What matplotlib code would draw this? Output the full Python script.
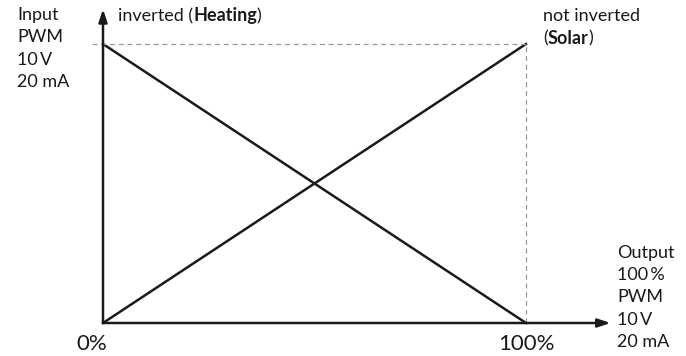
import matplotlib.pyplot as plt

# signal in percent of output vs. input
x_pct = [0, 100]
heating = [100, 0]   # inverted
solar = [0, 100]     # not inverted
x_ticks = [0, 100]
x_tick_labels = ["0%", "100%"]
input_label = ["Input", "PWM", "10\u2009V", "20 mA"]
output_label = ["Output", "100\u2009%", "PWM", "10\u2009V", "20 mA"]

plt.rcParams["font.family"] = ["Lato", "DejaVu Sans"]

W, H = 686, 356
fig = plt.figure(figsize=(W / 100, H / 100), dpi=100)
# axes box: 0..100 maps to pixels 103..526 (x) and 323..44 (y)
ax = fig.add_axes([103 / W, (H - 323) / H, 423 / W, 279 / H])
ax.set_xlim(0, 100)
ax.set_ylim(0, 100)
ax.axis("off")

ax.plot(x_pct, heating, color="#1a1a1a", lw=1.8, clip_on=False)
ax.plot(x_pct, solar, color="#1a1a1a", lw=1.8, clip_on=False)

# dashed guides
ax.plot([-2.6, 100], [100, 100], ls=(0, (4, 3)), color="#999999", lw=0.9, clip_on=False)
ax.plot([100, 100], [0, 100], ls=(0, (4, 3)), color="#999999", lw=0.9, clip_on=False)

# axes with arrows
arrow = dict(arrowstyle="-|>,head_length=0.75,head_width=0.25", color="#1a1a1a", lw=1.8,
             shrinkA=0, shrinkB=0)
ax.annotate("", xy=(0, 112.5), xytext=(0, 0), arrowprops=arrow, annotation_clip=False)
ax.annotate("", xy=(120, 0), xytext=(0, 0), arrowprops=arrow, annotation_clip=False)

# the 0% label sits a little left of the origin in the original
tick_offset = [-2.6, 0]
for xt, off, lab in zip(x_ticks, tick_offset, x_tick_labels):
    ax.text(xt + off, -7.6, lab, ha="center", va="center", fontsize=16, color="#1a1a1a")

fs = 13
for i, s in enumerate(input_label):
    fig.text(17 / W, 1 - (15 + 22.3 * i) / H, s, ha="left", va="center", fontsize=fs, color="#1a1a1a")
for i, s in enumerate(output_label):
    fig.text(617 / W, 1 - (253 + 22.2 * i) / H, s, ha="left", va="center", fontsize=fs, color="#1a1a1a")

fig.canvas.draw()
r = fig.canvas.get_renderer()


def mixed(x, y, parts):
    # draw a run of text pieces, bold where asked, one after the other
    for s, bold in parts:
        t = fig.text(x / W, 1 - y / H, s, ha="left", va="center", fontsize=fs,
                     fontweight="bold" if bold else "normal", color="#1a1a1a")
        x = t.get_window_extent(r).x1


mixed(118, 16, [("inverted (", False), ("Heating", True), (")", False)])
fig.text(543 / W, 1 - 16 / H, "not inverted", ha="left", va="center", fontsize=fs, color="#1a1a1a")
mixed(543, 38, [("(", False), ("Solar", True), (")", False)])

fig.savefig("out.png", dpi=100)
